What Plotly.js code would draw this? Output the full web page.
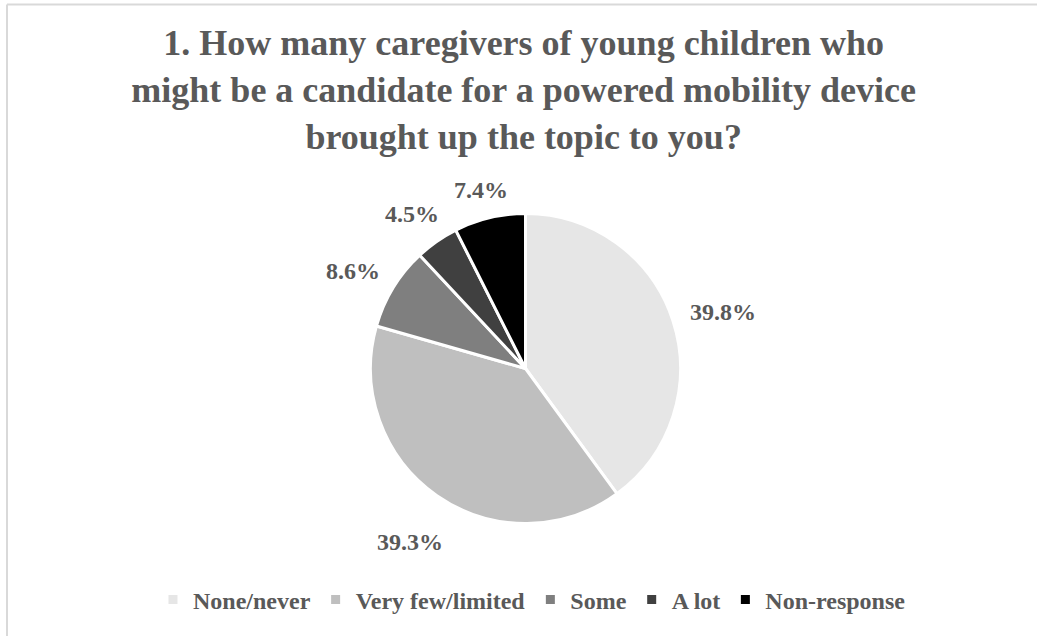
<!DOCTYPE html>
<html>
<head>
<meta charset="utf-8">
<script src="https://cdn.plot.ly/plotly-3.0.1.min.js"></script>
<style>html,body{margin:0;padding:0;background:#fff;}#chart{width:1037px;height:636px;}</style>
</head>
<body>
<div id="chart"></div>
<script>
const categories = ["None/never", "Very few/limited", "Some", "A lot", "Non-response"];
const percentValues = [39.8, 39.3, 8.6, 4.5, 7.4];
const percentLabels = ["39.8%", "39.3%", "8.6%", "4.5%", "7.4%"];
const sliceColors = ["#e6e6e6", "#bfbfbf", "#7f7f7f", "#404040", "#000000"];
const chartTitle = "1. How many caregivers of young children who<br>might be a candidate for a powered mobility device<br>brought up the topic to you?";

const W = 1037, H = 636;
const textColor = "#595959";
const fontFam = "'Liberation Serif', 'Times New Roman', serif";
const labelSize = 24;

// pie geometry (pixels)
const pieCx = 525.5, pieCy = 368.5, pieR = 155;
const domX = [(pieCx - (W - pieCx)) / W, 1.0];
const domY = [(H - (pieCy + pieR)) / H, (H - (pieCy - pieR)) / H];

// data-label annotations placed just outside each slice's mid-angle
const total = percentValues.reduce((a, b) => a + b, 0);
let cum = 0;
const annotations = percentValues.map((v, i) => {
  const mid = (cum + v / 2) / total * 2 * Math.PI; // clockwise from 12 o'clock
  cum += v;
  const ux = Math.sin(mid), uy = -Math.cos(mid);
  const hw = percentLabels[i].length * 0.55 * labelSize / 2 * 0.95;
  const hh = labelSize * 0.45;
  const ext = hw * Math.abs(ux) + hh * Math.abs(uy);
  const dist = pieR + 20 + ext;
  const px = pieCx + dist * ux, py = pieCy + dist * uy + 8;
  return {
    xref: "paper", yref: "paper",
    x: px / W, y: 1 - py / H,
    xanchor: "center", yanchor: "middle",
    text: percentLabels[i],
    showarrow: false,
    font: {family: fontFam, size: labelSize, color: textColor, weight: "bold"}
  };
});

const trace = {
  type: "pie",
  labels: categories,
  values: percentValues,
  sort: false,
  direction: "clockwise",
  rotation: 0,
  marker: {colors: sliceColors, line: {color: "#ffffff", width: 3}},
  textinfo: "none",
  hoverinfo: "label+value",
  domain: {x: domX, y: domY}
};

const layout = {
  width: W,
  height: H,
  margin: {l: 0, r: 0, t: 0, b: 0},
  paper_bgcolor: "#ffffff",
  font: {family: fontFam, color: textColor},
  title: {
    text: chartTitle,
    font: {family: fontFam, size: 36, color: textColor, weight: "bold"},
    x: 0.505, xanchor: "center",
    y: 1 - 55 / H, yanchor: "middle"
  },
  showlegend: true,
  legend: {
    orientation: "h",
    x: 0.513, xanchor: "center",
    y: 1 - 600 / H, yanchor: "middle",
    font: {family: fontFam, size: 24, color: textColor, weight: "bold"},
    itemwidth: 30,
    traceorder: "normal"
  },
  annotations: annotations,
  shapes: [
    {type: "line", xref: "paper", yref: "paper", x0: 7 / W, x1: 7 / W, y0: 0, y1: 1 - 4.5 / H, line: {color: "#d9d9d9", width: 2}},
    {type: "line", xref: "paper", yref: "paper", x0: 7 / W, x1: 1, y0: 1 - 4.5 / H, y1: 1 - 4.5 / H, line: {color: "#d9d9d9", width: 2}}
  ]
};

Plotly.newPlot("chart", [trace], layout, {displayModeBar: false, staticPlot: true});
</script>
</body>
</html>
